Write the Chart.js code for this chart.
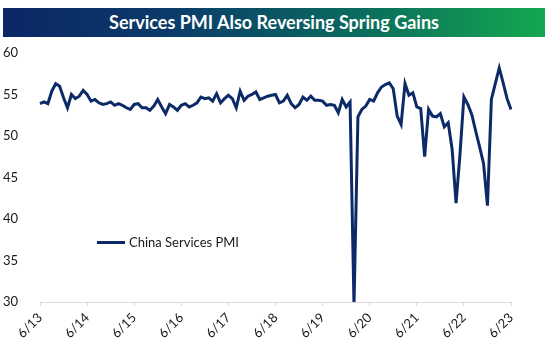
<!DOCTYPE html>
<html>
<head>
<meta charset="utf-8">
<script src="https://cdn.jsdelivr.net/npm/chart.js@4.4.0/dist/chart.umd.min.js"></script>
<style>
  html, body { margin: 0; padding: 0; background: #fff; }
  #wrap { position: relative; width: 550px; height: 358px; }
  #banner {
    position: absolute; left: 3px; top: 8px; width: 542px; height: 29px;
    background: linear-gradient(to right, #0b2766 0%, #0b3a6a 30%, #0a6a5e 65%, #14a84f 100%);
    color: #fff; font-family: Lato, "Open Sans", sans-serif; font-weight: bold;
    font-size: 18px; line-height: 29px; text-align: center;
  }
  #legend {
    position: absolute; left: 97px; top: 234px; font-family: Lato, "Open Sans", sans-serif;
    font-size: 13px; color: #1a1a1a; display: flex; align-items: center;
  }
  #legend .swatch { width: 28px; height: 3px; background: #0d2a68; margin-right: 4px; }
  canvas { position: absolute; left: 0; top: 0; }
</style>
</head>
<body>
<div id="wrap">
  <canvas id="c" width="550" height="358"></canvas>
  <div id="banner">Services PMI Also Reversing Spring Gains</div>
  <div id="legend"><span class="swatch"></span><span id="legendText"></span></div>
</div>
<script>
const seriesName = 'China Services PMI';
const startYear = 2013;
const startMonth = 6;
const tickLabels = ['6/13','6/14','6/15','6/16','6/17','6/18','6/19','6/20','6/21','6/22','6/23'];
// Monthly values, Jun 2013 - Jun 2023
const pmi2013 = [53.9, 54.1, 53.9, 55.4, 56.3, 56.0, 54.6];
const pmi2014 = [53.4, 55.0, 54.5, 54.8, 55.5, 55.0, 54.2, 54.4, 54.0, 53.8, 53.9, 54.1];
const pmi2015 = [53.7, 53.9, 53.7, 53.4, 53.2, 53.8, 53.9, 53.4, 53.4, 53.1, 53.6, 54.4];
const pmi2016 = [53.5, 52.7, 53.8, 53.5, 53.1, 53.7, 53.9, 53.5, 53.7, 54.0, 54.7, 54.5];
const pmi2017 = [54.6, 54.2, 55.1, 54.0, 54.5, 54.9, 54.5, 53.4, 55.4, 54.3, 54.8, 55.0];
const pmi2018 = [55.3, 54.4, 54.6, 54.8, 54.9, 55.0, 54.0, 54.2, 54.9, 53.9, 53.4, 53.8];
const pmi2019 = [54.7, 54.3, 54.8, 54.3, 54.3, 54.2, 53.7, 53.8, 53.7, 52.8, 54.4, 53.5];
const pmi2020 = [54.1, 29.6, 52.3, 53.2, 53.6, 54.4, 54.2, 55.2, 55.9, 56.2, 56.4, 55.7];
const pmi2021 = [52.4, 51.4, 56.3, 54.9, 55.2, 53.5, 53.3, 47.5, 53.2, 52.4, 52.3, 52.7];
const pmi2022 = [51.1, 51.6, 48.4, 41.9, 47.8, 54.7, 53.8, 52.6, 50.6, 48.7, 46.7, 41.6];
const pmi2023 = [54.4, 56.3, 58.2, 56.4, 54.5, 53.2];
const values = [].concat(pmi2013, pmi2014, pmi2015, pmi2016, pmi2017, pmi2018, pmi2019, pmi2020, pmi2021, pmi2022, pmi2023);

const labels = values.map((v, i) => {
  const m = (startMonth - 1 + i) % 12 + 1;
  const y = startYear + Math.floor((startMonth - 1 + i) / 12);
  return m + '/' + String(y).slice(2);
});

document.getElementById('legendText').textContent = seriesName;

const fontFam = 'Lato, "Open Sans", sans-serif';
new Chart(document.getElementById('c'), {
  type: 'line',
  data: {
    labels: labels,
    datasets: [{
      label: seriesName,
      data: values,
      borderColor: '#0d2a68',
      borderWidth: 3,
      pointRadius: 0,
      tension: 0,
      fill: false
    }]
  },
  options: {
    responsive: false,
    animation: false,
    layout: { padding: { left: 0, right: 39, top: 53, bottom: 0 } },
    plugins: { legend: { display: false }, title: { display: false }, tooltip: { enabled: false } },
    scales: {
      x: {
        type: 'category',
        offset: false,
        afterFit: (s) => { s.height = 56; },
        border: { display: true, color: '#d9d9d9', width: 1 },
        grid: {
          drawOnChartArea: false, drawTicks: true, tickLength: 4, color: '#d9d9d9',
        },
        ticks: {
          autoSkip: false, maxRotation: 45, minRotation: 45, padding: 4,
          color: '#1a1a1a', font: { family: fontFam, size: 13 },
          callback: function(val, idx) { return idx % 12 === 0 ? tickLabels[idx / 12] : null; }
        }
      },
      y: {
        min: 30, max: 60,
        afterFit: (s) => { s.width = 40; },
        border: { display: false },
        grid: { display: false },
        ticks: {
          stepSize: 5, padding: 14, color: '#1a1a1a',
          font: { family: fontFam, size: 13 }
        }
      }
    }
  }
});
</script>
</body>
</html>
